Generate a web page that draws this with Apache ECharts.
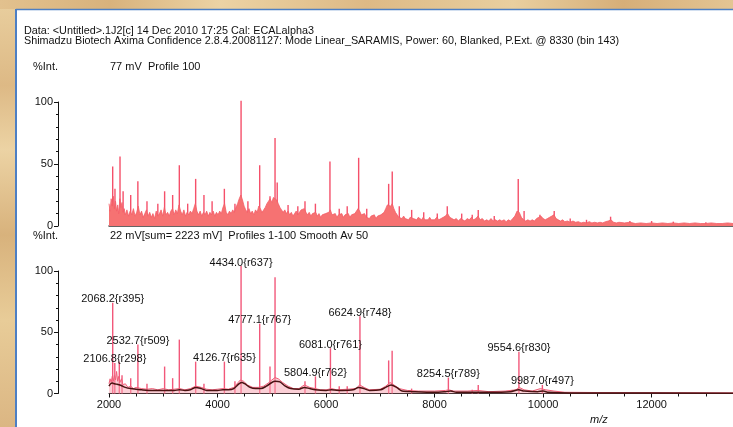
<!DOCTYPE html>
<html><head><meta charset="utf-8">
<script src="https://cdn.jsdelivr.net/npm/echarts@6/dist/echarts.min.js"></script>
<style>html,body{margin:0;padding:0;background:#fff}#c{width:733px;height:427px}</style>
</head><body><div id="c"></div>
<script>
// ---- header / annotation texts ----
const headerLine1 = 'Data: <Untitled>.1J2[c] 14 Dec 2010 17:25 Cal: ECALalpha3';
const headerLine2 = 'Shimadzu Biotech Axima Confidence 2.8.4.20081127: Mode Linear_SARAMIS, Power: 60, Blanked, P.Ext. @ 8330 (bin 143)';
const topCaption = '77 mV  Profile 100';
const bottomCaption = '22 mV[sum= 2223 mV]  Profiles 1-100 Smooth Av 50';
const yName = '%Int.';
const xName = 'm/z';
const yTicks = [0, 50, 100];
const xTicks = [2000, 4000, 6000, 8000, 10000, 12000];

// ---- top panel: single profile (noise body, estimated) ----
const topNoise = [[2000,18],[2020,12],[2040,22],[2060,16],[2080,24],[2100,14],[2120,20],[2140,12],[2160,17],[2180,10],[2200,22],[2220,15],[2240,19],[2260,11],[2280,14],[2300,9],[2330,13],[2360,8],[2390,12],[2420,9],[2450,14],[2480,8],[2510,11],[2540,16],[2570,9],[2600,12],[2630,7],[2660,10],[2690,13],[2720,8],[2750,11],[2780,7],[2810,10],[2840,6],[2870,12],[2900,8],[2930,10],[2960,13],[2990,8],[3020,15],[3050,9],[3080,11],[3110,8],[3140,12],[3170,14],[3200,9],[3230,13],[3260,10],[3290,17],[3320,12],[3350,9],[3380,13],[3410,8],[3440,11],[3470,9],[3500,12],[3530,10],[3560,14],[3590,18],[3620,12],[3650,9],[3680,12],[3710,8],[3740,11],[3770,9],[3800,12],[3830,8],[3860,11],[3890,9],[3920,12],[3950,8],[3980,11],[4010,9],[4040,12],[4070,10],[4100,15],[4130,18],[4160,11],[4190,9],[4220,12],[4250,10],[4280,13],[4310,11],[4340,15],[4370,18],[4400,22],[4430,25],[4460,21],[4490,16],[4520,13],[4550,11],[4580,14],[4610,10],[4640,12],[4670,9],[4700,13],[4730,11],[4760,16],[4790,14],[4820,11],[4850,13],[4880,15],[4910,18],[4940,20],[4970,22],[5000,19],[5030,23],[5060,24],[5090,21],[5120,18],[5150,15],[5180,13],[5210,11],[5240,13],[5270,10],[5300,12],[5330,9],[5360,11],[5390,8],[5420,10],[5450,12],[5480,9],[5510,11],[5540,13],[5570,12],[5600,14],[5630,11],[5660,9],[5690,11],[5720,8],[5750,10],[5780,9],[5810,11],[5840,8],[5870,10],[5900,7],[5930,9],[5960,8],[5990,10],[6020,9],[6050,11],[6080,13],[6110,9],[6140,8],[6170,10],[6200,7],[6230,9],[6260,8],[6290,10],[6320,7],[6350,9],[6380,8],[6410,10],[6440,7],[6470,9],[6500,8],[6530,10],[6560,11],[6590,14],[6620,12],[6650,9],[6680,8],[6710,10],[6740,7],[6770,8],[6800,6],[6830,8],[6860,7],[6890,9],[6920,6],[6950,8],[6980,7],[7010,9],[7040,8],[7070,11],[7100,14],[7130,17],[7160,18],[7190,16],[7220,18],[7250,14],[7280,11],[7310,9],[7340,7],[7370,8],[7400,6],[7430,8],[7460,6],[7490,7],[7520,5],[7550,7],[7580,8],[7610,6],[7640,7],[7670,5],[7700,7],[7730,6],[7760,5],[7790,7],[7820,5],[7850,6],[7880,5],[7910,7],[7940,5],[7970,6],[8000,5],[8040,7],[8080,5],[8120,6],[8160,7],[8200,8],[8240,10],[8280,7],[8320,6],[8360,5],[8400,6],[8440,4],[8480,6],[8520,5],[8560,4],[8600,6],[8640,5],[8680,7],[8720,5],[8760,6],[8800,8],[8840,5],[8880,6],[8920,4],[8960,5],[9000,4],[9040,6],[9080,4],[9120,5],[9160,4],[9200,5],[9240,4],[9280,5],[9320,3.5],[9360,5],[9400,4],[9440,6],[9480,8],[9520,12],[9560,11],[9600,7],[9640,5],[9680,4],[9720,5],[9760,4],[9800,5],[9840,4],[9880,6],[9920,7],[9960,8],[10000,6],[10040,5],[10080,6],[10120,7],[10160,8],[10200,9],[10240,6],[10280,5],[10320,4],[10360,5],[10400,3.5],[10450,4],[10500,3],[10550,4],[10600,3],[10650,3.5],[10700,2.5],[10750,3],[10800,2.5],[10850,3.5],[10900,2.5],[10950,3],[11000,2.5],[11050,3],[11100,2.5],[11150,3.5],[11200,4],[11250,5],[11300,3],[11350,2.5],[11400,3],[11500,2.5],[11600,3],[11700,2],[11800,2.5],[11900,2],[12000,2.5],[12100,2],[12200,2.5],[12300,2],[12400,2.5],[12500,2],[12600,2.5],[12700,2],[12800,2.5],[12900,2],[13000,2],[13100,2.5],[13200,2],[13300,2],[13400,2.5],[13500,2]];

// ---- top panel: spikes [m/z, %Int] ----
const topPeaks = [[2068,48],[2110,30],[2203,56],[2260,28],[2400,25],[2532,36],[2700,20],[2900,18],[3025,28],[3173,25],[3296,49],[3450,18],[3597,38],[3750,25],[3900,20],[4126,30],[4321,18],[4434,101],[4560,20],[4777,49],[4967,24],[5060,71],[5100,35],[5300,17],[5480,16],[5612,20],[5804,18],[6072,52],[6243,14],[6390,16],[6601,55],[6750,14],[7154,34],[7220,44],[7350,16],[7578,13],[7800,11],[8050,10],[8234,16],[8500,10],[8694,9],[8805,13],[9100,8],[9542,38],[9650,12],[9942,9],[10205,12],[10500,6],[10800,5],[11244,7.5],[11600,4],[12000,4],[12400,3.5],[13000,3]];

// ---- bottom panel: summed raw base, smoothed trace, spikes ----
const bottomNoise = [[2000,8],[2020,12],[2040,9],[2060,14],[2080,10],[2100,15],[2120,11],[2140,18],[2160,10],[2180,14],[2200,9],[2230,12],[2260,7],[2300,8],[2350,5],[2400,6],[2450,4],[2500,5],[2600,4],[2700,3.5],[2800,4],[2900,3],[3000,4],[3100,3],[3200,3.5],[3300,4],[3400,3],[3500,4],[3600,6],[3700,5],[3800,3.5],[3900,3],[4000,3.5],[4100,4],[4200,3.5],[4300,5],[4380,9],[4420,11],[4480,10],[4550,7],[4650,5],[4750,5],[4850,6],[4950,9],[5000,11],[5060,13],[5120,12],[5200,9],[5300,6],[5400,4],[5500,4],[5600,7],[5700,5],[5800,4],[5900,3],[6000,3],[6100,4],[6200,3],[6400,3.5],[6550,4],[6620,7],[6700,5],[6800,3],[7000,3.5],[7100,6],[7180,9],[7250,7],[7350,4],[7500,2.5],[7700,2],[8000,2],[8200,2.5],[8260,3],[8350,2],[8600,2],[8800,2.5],[9000,1.5],[9300,2],[9500,3],[9560,5],[9650,3],[9800,2],[9950,4],[10050,3],[10200,2],[10400,1],[11000,0.8],[13500,0.5]];
const bottomSmooth = [[2000,6],[2030,8],[2060,8.5],[2100,8],[2150,7.5],[2200,7],[2250,6],[2300,5],[2400,4],[2500,3.5],[2600,3],[2800,2.5],[3000,2.5],[3200,2.5],[3300,3],[3400,2.5],[3500,3],[3600,5],[3700,4],[3800,2.5],[4000,2.5],[4100,3],[4200,3],[4300,4],[4400,8],[4450,9],[4500,8],[4600,5],[4700,4],[4800,4],[4900,6],[5000,9],[5060,10],[5150,9.5],[5250,6],[5350,4],[5500,3.5],[5600,5],[5700,4],[5800,3],[6000,2.5],[6100,3],[6300,2.5],[6500,3],[6600,5],[6700,4],[6800,2.5],[7000,3],[7100,5],[7200,7],[7300,5],[7400,2],[7600,1.5],[8000,1],[8200,1.5],[8300,2],[8400,1],[9000,1],[9400,1.5],[9550,3],[9650,2],[9900,1.5],[10000,2],[10100,1],[10500,0.5],[11000,0.5],[13500,0.3]];
const bottomPeaks = [[2068.2,74],[2106.8,25],[2190,26],[2240,15],[2400,12.5],[2532.7,40],[2700,8],[3025,22],[3173,12.5],[3296,44],[3597,26],[3750,8],[4126.7,26],[4321,10],[4434.0,104],[4777.1,57],[4967,22],[5060,95],[5612,10],[5804.9,14],[6081.0,37],[6243,6],[6390,6],[6624.9,63],[7154,27],[7218,35],[7577,4],[8254.5,13],[8694,3],[8805,7],[9554.6,34],[9987.0,7]];
const peakLabels = [[2068.2,'2068.2{r395}'],[2106.8,'2106.8{r298}'],[2532.7,'2532.7{r509}'],[4126.7,'4126.7{r635}'],[4434.0,'4434.0{r637}'],[4777.1,'4777.1{r767}'],[5804.9,'5804.9{r762}'],[6081.0,'6081.0{r761}'],[6624.9,'6624.9{r748}'],[8254.5,'8254.5{r789}'],[9554.6,'9554.6{r830}'],[9987.0,'9987.0{r497}']];

const FONT = 'Liberation Sans, Arial, sans-serif';
const chart = echarts.init(document.getElementById('c'), null, {renderer: 'canvas'});
const labelMap = new Map(peakLabels.map(p => [p[0], p[1]]));
const bottomPeakData = bottomPeaks.map(p => {
  const t = labelMap.get(p[0]);
  return t ? {value: p, label: {show: true, formatter: () => t}} : {value: p};
});

function yAxisCfg(gi) {
  return {
    gridIndex: gi, type: 'value', min: 0, max: 100, interval: 50, offset: 51,
    axisLine: {show: true, lineStyle: {color: '#111', width: 1}},
    axisTick: {show: true, length: 4, lineStyle: {color: '#111'}},
    minorTick: {show: true, splitNumber: 5, length: 2, lineStyle: {color: '#111'}},
    splitLine: {show: false},
    axisLabel: {color: '#111', fontSize: 11, fontFamily: FONT, margin: 5,
      formatter: v => yTicks.includes(v) ? String(v) : ''}
  };
}

const bgGrad = new echarts.graphic.LinearGradient(0, 0, 0, 1, [
  {offset: 0, color: '#e9cf9f'}, {offset: 0.2, color: '#ddb985'}, {offset: 0.35, color: '#ecd3a4'},
  {offset: 0.55, color: '#d8b27c'}, {offset: 0.75, color: '#e8cc98'}, {offset: 1, color: '#dbb683'}]);
const topGrad = new echarts.graphic.LinearGradient(0, 0, 1, 0, [
  {offset: 0, color: '#e2c18e'}, {offset: 0.15, color: '#d8b27c'}, {offset: 0.3, color: '#ecd3a4'},
  {offset: 0.5, color: '#ddb985'}, {offset: 0.7, color: '#e9cf9f'}, {offset: 0.85, color: '#d6ae78'}, {offset: 1, color: '#e4c593'}]);

chart.setOption({
  animation: false,
  backgroundColor: '#ffffff',
  textStyle: {fontFamily: FONT},
  grid: [
    {left: 109, top: 102, width: 624, height: 124, outerBoundsMode: 'none', containLabel: false},
    {left: 109, top: 271, width: 624, height: 122.5, outerBoundsMode: 'none', containLabel: false}
  ],
  xAxis: [
    {gridIndex: 0, type: 'value', min: 2000, max: 13500, interval: 2000,
     axisLine: {show: true, onZero: false, lineStyle: {color: '#333', width: 1.5}},
     axisTick: {show: false}, axisLabel: {show: false}, splitLine: {show: false}},
    {gridIndex: 1, type: 'value', min: 2000, max: 13500, interval: 2000,
     axisLine: {show: true, onZero: false, lineStyle: {color: '#111', width: 1}},
     axisTick: {show: true, length: 4, lineStyle: {color: '#111'}},
     minorTick: {show: true, splitNumber: 4, length: 3, lineStyle: {color: '#111'}},
     splitLine: {show: false},
     axisLabel: {color: '#111', fontSize: 11, fontFamily: FONT, margin: 6, showMaxLabel: false,
       formatter: v => xTicks.includes(v) ? String(v) : ''}}
  ],
  yAxis: [yAxisCfg(0), yAxisCfg(1)],
  series: [
    {type: 'line', xAxisIndex: 0, yAxisIndex: 0, data: topNoise, symbol: 'none', silent: true,
     lineStyle: {color: '#f45e68', width: 0.8}, areaStyle: {color: '#f67272', opacity: 1}},
    {type: 'bar', xAxisIndex: 0, yAxisIndex: 0, data: topPeaks, barWidth: 1.4, clip: false,
     itemStyle: {color: '#f5506a'}},
    {type: 'line', xAxisIndex: 1, yAxisIndex: 1, data: bottomNoise, symbol: 'none', silent: true,
     lineStyle: {color: '#f0607a', width: 1}, areaStyle: {color: '#f7a0ae', opacity: 0.5}},
    {type: 'bar', xAxisIndex: 1, yAxisIndex: 1, data: bottomPeakData, barWidth: 1.4, clip: false,
     itemStyle: {color: '#f2587a'},
     label: {show: false, position: 'top', distance: -2, color: '#111', fontSize: 11, fontFamily: FONT}},
    {type: 'line', xAxisIndex: 1, yAxisIndex: 1, data: bottomSmooth, symbol: 'none', smooth: 0.3, silent: true,
     lineStyle: {color: '#4a1212', width: 1.5}, z: 5}
  ],
  graphic: [
    {type: 'rect', z: -10, shape: {x: 0, y: 0, width: 16, height: 427}, style: {fill: bgGrad}},
    {type: 'rect', z: -10, shape: {x: 0, y: 0, width: 733, height: 9}, style: {fill: topGrad}},
    {type: 'line', shape: {x1: 16, y1: 9, x2: 16, y2: 427}, style: {stroke: '#4d7fc4', lineWidth: 2}},
    {type: 'line', shape: {x1: 16, y1: 9.5, x2: 733, y2: 9.5}, style: {stroke: '#4d7fc4', lineWidth: 1.5}},
    {type: 'text', left: 24, top: 26, style: {text: headerLine1, fill: '#111', font: '10.8px ' + FONT}},
    {type: 'text', left: 24, top: 36, style: {text: headerLine2, fill: '#111', font: '10.8px ' + FONT}},
    {type: 'text', left: 33, top: 61, style: {text: yName, fill: '#111', font: '11px ' + FONT}},
    {type: 'text', left: 110, top: 61, style: {text: topCaption, fill: '#111', font: '11px ' + FONT}},
    {type: 'text', left: 33, top: 230, style: {text: yName, fill: '#111', font: '11px ' + FONT}},
    {type: 'text', left: 110, top: 230, style: {text: bottomCaption, fill: '#111', font: '11px ' + FONT}},
    {type: 'text', left: 590, top: 414, style: {text: xName, fill: '#111', font: 'italic 11px ' + FONT}}
  ]
});
</script></body></html>
